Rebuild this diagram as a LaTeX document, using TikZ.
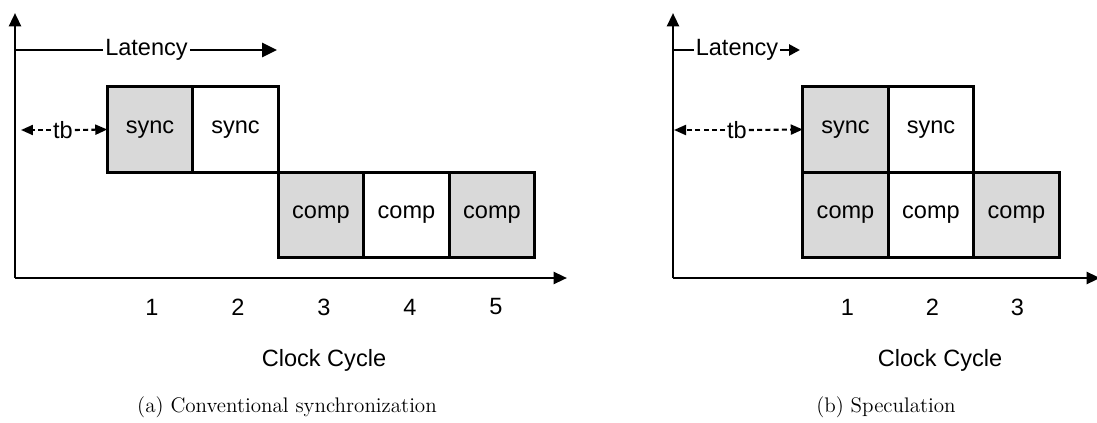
\documentclass[tikz,border=0pt]{standalone}
\usepackage{fontspec}
\setsansfont{Liberation Sans}
\usetikzlibrary{arrows.meta, positioning}

\begin{document}
\begin{tikzpicture}[x=0.02cm, y=-0.02cm,
    txt/.style = {font=\sffamily\fontsize{13.4}{16}\selectfont},
    slot/.style = {txt, draw, line width=1.5pt, minimum size=1.71cm, inner sep=0pt, outer sep=0pt},
    busy/.style = {slot, fill=gray!30},
    axis/.style = {line width=1.5pt, -{Triangle[length=0.27cm, width=0.24cm]}},
    span/.style = {line width=1.5pt},
    gap/.style = {line width=1.2pt, dash pattern=on 2.8pt off 1.9pt},
    caption/.style = {font=\fontsize{12}{14}\selectfont}]
    \useasboundingbox (0,0) rectangle (1097,422);

    % (a) conventional synchronization
    \coordinate (oA) at (15,278);
    \coordinate (yA) at (15,13);
    \coordinate (xA) at (567,278);
    \draw[axis] (oA) -- (yA);
    \draw[axis] (oA) -- (xA);

    \node[busy] (syncA1) at (150,129.5) {sync};
    \node[slot] (syncA2) [right=0pt of syncA1] {sync};
    \node[busy] (compA1) [below right=0pt and 0pt of syncA2] {comp};
    \node[slot] (compA2) [right=0pt of compA1] {comp};
    \node[busy] (compA3) [right=0pt of compA2] {comp};

    \node[txt, inner sep=1pt] (latA) at (146.5,50) {Latency};
    \coordinate (latA0) at (15,50);
    \coordinate (latA1) at (277,50);
    \draw[span] (latA0) -- (latA.west);
    \draw[span, -{Triangle[length=0.3cm, width=0.28cm]}] (latA.east) -- (latA1);

    \node[txt, inner sep=1pt] (tbA) at (63,130) {tb};
    \coordinate (tbA0) at (21,130);
    \draw[gap, -{Triangle[length=0.24cm, width=0.2cm]}] (tbA.west) -- (tbA0);
    \draw[gap, -{Triangle[length=0.24cm, width=0.2cm]}] (tbA.east) -- (syncA1.west);

    \foreach \n/\x in {1/150, 2/236, 3/322, 4/408, 5/494}
        \node[txt] (cycA\n) at (\x+2,307) {\n};
    \node[txt] (clkA) at (324,360) {Clock Cycle};
    \node[caption] (capA) at (287,407) {(a) Conventional synchronization};

    % (b) speculation
    \coordinate (oB) at (673,278);
    \coordinate (yB) at (673,13);
    \coordinate (xB) at (1100,278);
    \draw[axis] (oB) -- (yB);
    \draw[axis] (oB) -- (xB);

    \node[busy] (syncB1) at (845.5,129.5) {sync};
    \node[slot] (syncB2) [right=0pt of syncB1] {sync};
    \node[busy] (compB1) [below=0pt of syncB1] {comp};
    \node[slot] (compB2) [right=0pt of compB1] {comp};
    \node[busy] (compB3) [right=0pt of compB2] {comp};

    \node[txt, inner sep=1pt] (latB) at (737,50) {Latency};
    \coordinate (latB0) at (673,50);
    \coordinate (latB1) at (800,50);
    \draw[span] (latB0) -- (latB.west);
    \draw[span, -{Triangle[length=0.22cm, width=0.22cm]}] (latB.east) -- (latB1);

    \node[txt, inner sep=1pt] (tbB) at (737,130) {tb};
    \coordinate (tbB0) at (674,130);
    \draw[gap, -{Triangle[length=0.24cm, width=0.2cm]}] (tbB.west) -- (tbB0);
    \draw[gap, -{Triangle[length=0.24cm, width=0.2cm]}] (tbB.east) -- (syncB1.west);

    \foreach \n/\x in {1/845.5, 2/930.5, 3/1015.5}
        \node[txt] (cycB\n) at (\x+2,307) {\n};
    \node[txt] (clkB) at (940,360) {Clock Cycle};
    \node[caption] (capB) at (886,407) {(b) Speculation};
\end{tikzpicture}
\end{document}
